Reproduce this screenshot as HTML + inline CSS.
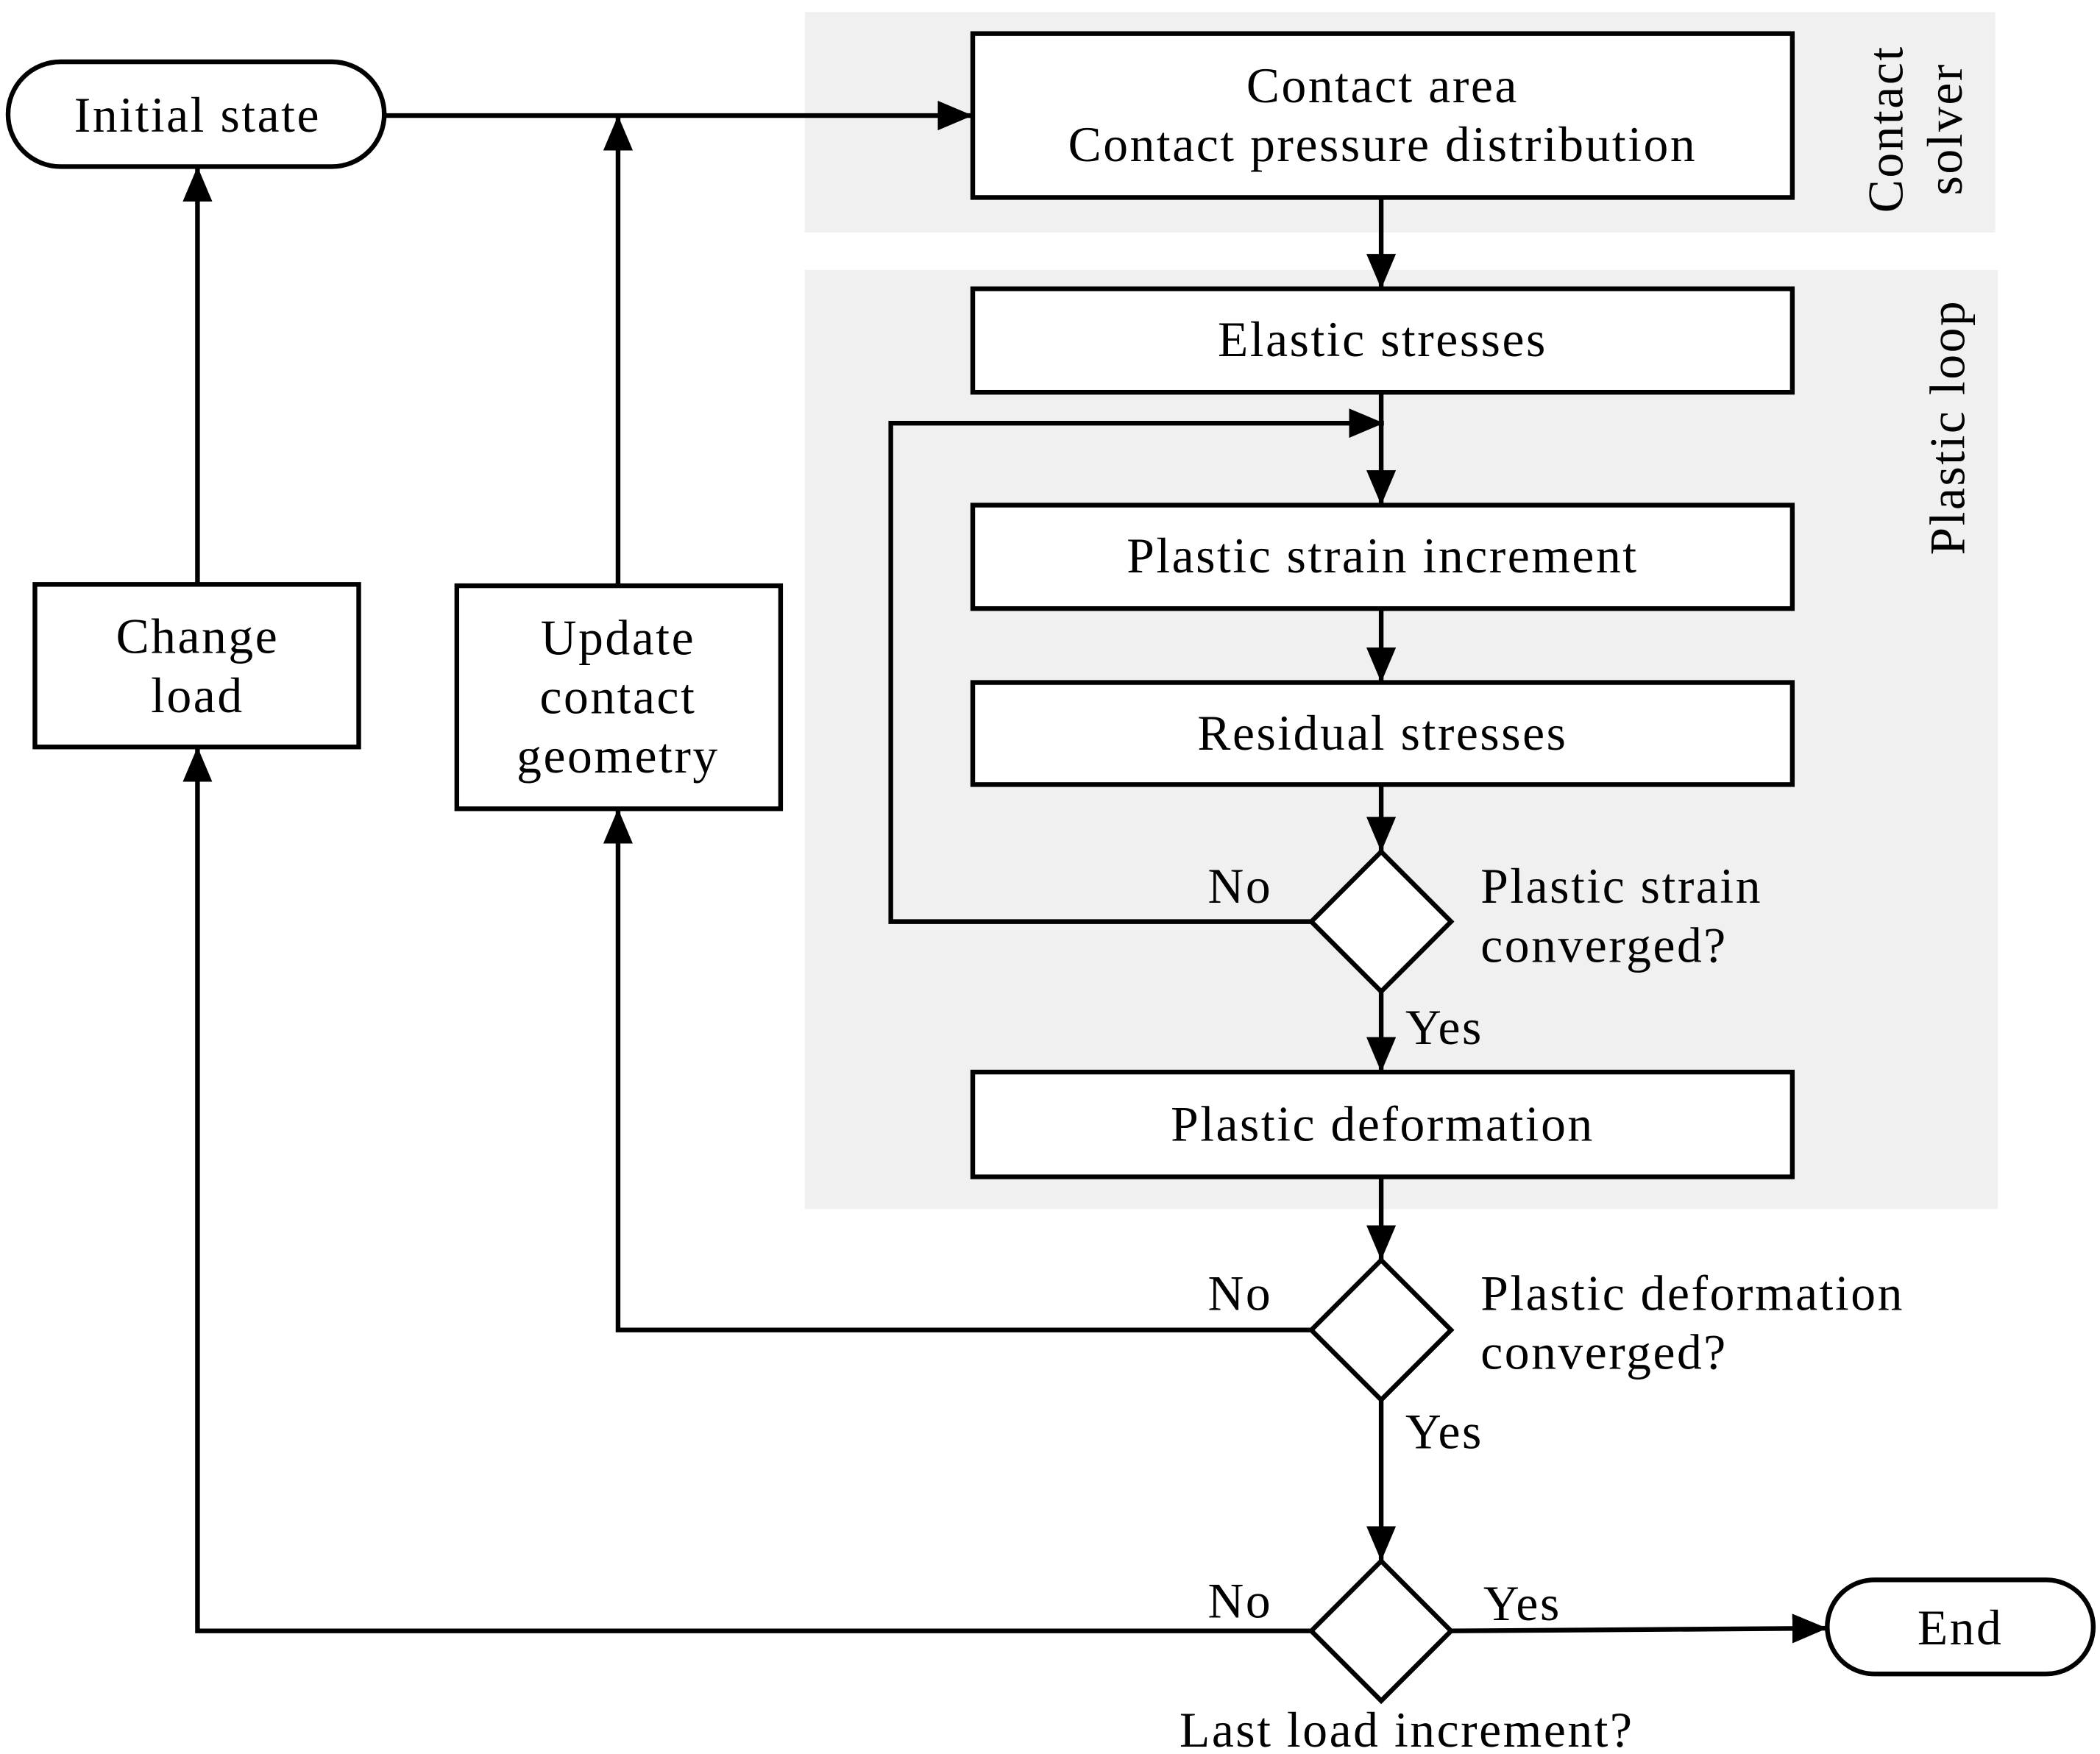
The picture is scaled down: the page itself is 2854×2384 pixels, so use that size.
<!DOCTYPE html>
<html><head><meta charset="utf-8"><style>html,body{margin:0;padding:0;background:#fff}svg{display:block}</style></head>
<body>
<svg width="2854" height="2384" viewBox="0 0 1563 1305.6" xmlns="http://www.w3.org/2000/svg" font-family="'Liberation Serif', serif" font-size="37" letter-spacing="1.4" text-anchor="middle">
<defs>
<marker id="b" markerWidth="26" markerHeight="22" refX="26" refY="11" orient="auto" markerUnits="userSpaceOnUse"><path d="M0,0 L26,11 L0,22 z" fill="#000"/></marker></defs>
<rect x="599" y="9" width="886" height="164" fill="#f0f0f0"/>
<rect x="599" y="201" width="888" height="699" fill="#f0f0f0"/>
<g fill="none" stroke="#000" stroke-width="3.5">
<line x1="286" y1="86" x2="724" y2="86" marker-end="url(#b)"/>
<line x1="460" y1="436" x2="460" y2="86" marker-end="url(#b)"/>
<line x1="147" y1="435" x2="147" y2="124" marker-end="url(#b)"/>
<line x1="1028" y1="147" x2="1028" y2="215" marker-end="url(#b)"/>
<line x1="1028" y1="292" x2="1028" y2="376" marker-end="url(#b)"/>
<polyline points="976,686 663,686 663,315 1030,315" marker-end="url(#b)"/>
<line x1="1028" y1="453" x2="1028" y2="508" marker-end="url(#b)"/>
<line x1="1028" y1="584" x2="1028" y2="634" marker-end="url(#b)"/>
<line x1="1028" y1="738" x2="1028" y2="798" marker-end="url(#b)"/>
<line x1="1028" y1="876" x2="1028" y2="938" marker-end="url(#b)"/>
<polyline points="976,990 460,990 460,602" marker-end="url(#b)"/>
<line x1="1028" y1="1042" x2="1028" y2="1162" marker-end="url(#b)"/>
<polyline points="976,1214 147,1214 147,556" marker-end="url(#b)"/>
<line x1="1080" y1="1214" x2="1360" y2="1212" marker-end="url(#b)"/>
</g>
<g fill="#fff" stroke="#000" stroke-width="3.5">
<rect x="6" y="46" width="280" height="78" rx="39"/>
<rect x="724" y="25" width="610" height="122"/>
<rect x="724" y="215" width="610" height="77"/>
<rect x="724" y="376" width="610" height="77"/>
<rect x="724" y="508" width="610" height="76"/>
<rect x="724" y="798" width="610" height="78"/>
<polygon points="1028,634 1080,686 1028,738 976,686"/>
<polygon points="1028,938 1080,990 1028,1042 976,990"/>
<polygon points="1028,1162 1080,1214 1028,1266 976,1214"/>
<rect x="1360" y="1176" width="198" height="70" rx="35"/>
<rect x="26" y="435" width="241" height="121"/>
<rect x="340" y="436" width="241" height="166"/>
</g>
<g fill="#000">
<text x="147" y="98">Initial state</text>
<text x="1029" y="76">Contact area</text>
<text x="1029" y="120">Contact pressure distribution</text>
<text x="1029" y="265">Elastic stresses</text>
<text x="1029" y="426">Plastic strain increment</text>
<text x="1029" y="558">Residual stresses</text>
<text x="1029" y="849">Plastic deformation</text>
<text x="1459" y="1224">End</text>
<text x="147" y="486">Change</text>
<text x="147" y="530">load</text>
<text x="460" y="487">Update</text>
<text x="460" y="531">contact</text>
<text x="460" y="575">geometry</text>
<text x="923" y="672">No</text>
<text x="923" y="975">No</text>
<text x="923" y="1204">No</text>
<text x="1075" y="777">Yes</text>
<text x="1075" y="1078">Yes</text>
<text x="1133" y="1206">Yes</text>
<text x="1047" y="1300">Last load increment?</text>
<g text-anchor="start">
<text x="1102" y="672">Plastic strain</text>
<text x="1102" y="716">converged?</text>
<text x="1102" y="975">Plastic deformation</text>
<text x="1102" y="1019">converged?</text>
</g>
<text transform="translate(1416,96) rotate(-90)">Contact</text>
<text transform="translate(1460,96) rotate(-90)">solver</text>
<text transform="translate(1462,318) rotate(-90)">Plastic loop</text>
</g>
</svg>
</body></html>
